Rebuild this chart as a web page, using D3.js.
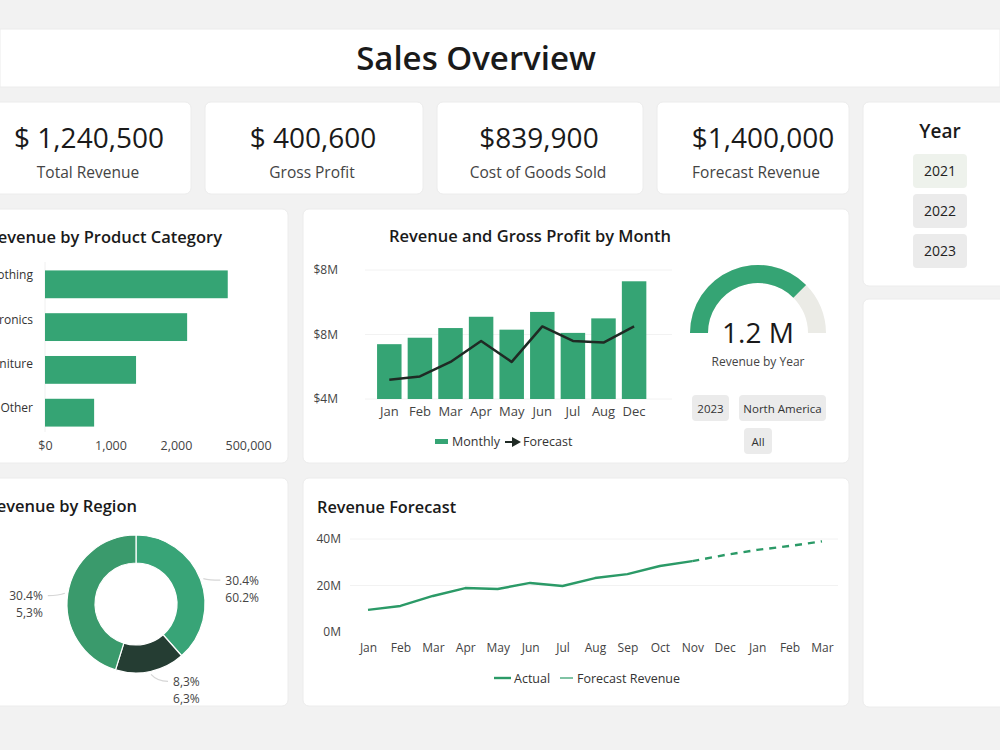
<!DOCTYPE html>
<html>
<head>
<meta charset="utf-8">
<script src="https://cdn.jsdelivr.net/npm/d3@7"></script>
<style>
  body { margin: 0; background: #f2f2f2; font-family: "Open Sans", "Noto Sans", sans-serif; }
  svg text { font-family: "Open Sans", "Noto Sans", sans-serif; }
</style>
</head>
<body>
<svg id="dash" width="1000" height="750"></svg>
<script>
// KPI cards
const kpiValues = ["$ 1,240,500", "$ 400,600", "$839,900", "$1,400,000"];
const kpiLabels = ["Total Revenue", "Gross Profit", "Cost of Goods Sold", "Forecast Revenue"];

// Year slicer
const years = ["2021", "2022", "2023"];

// Revenue by product category
const categories = ["Clothing", "Electronics", "Furniture", "Other"];
const categoryRevenue = [2790, 2170, 1390, 750];
const categoryTicks = [0, 1000, 2000, 3100];
const categoryTickLabels = ["$0", "1,000", "2,000", "500,000"];

// Revenue and gross profit by month (in $M)
const months = ["Jan", "Feb", "Mar", "Apr", "May", "Jun", "Jul", "Aug", "Dec"];
const monthlyRevenue = [7.4, 7.8, 8.4, 9.1, 8.3, 9.4, 8.1, 9.0, 11.3];
const monthlyForecast = [5.2, 5.4, 6.3, 7.6, 6.3, 8.5, 7.6, 7.5, 8.5];
const monthTicks = [4, 8, 12];
const monthTickLabels = ["$4M", "$8M", "$8M"];

// Gauge
const gaugeShare = 0.75;
const gaugeText = "1.2 M";
const filters = ["2023", "North America", "All"];

// Revenue by region
const regionShares = [38.5, 16.3, 45.2];
const regionColors = ["#38a477", "#253d33", "#3a9a6c"];
const regionLabels = [["30.4%", "60.2%"], ["8,3%", "6,3%"], ["30.4%", "5,3%"]];

// Revenue forecast (in M)
const forecastMonths = ["Jan", "Feb", "Mar", "Apr", "May", "Jun", "Jul", "Aug", "Sep", "Oct", "Nov", "Dec", "Jan", "Feb", "Mar"];
const actualRevenue = [9.5, 11.2, 15.5, 18.9, 18.5, 21.1, 19.8, 23.2, 24.9, 28.4, 30.5];
const forecastRevenue = [30.5, 33.1, 35.3, 37.0, 39.0];
const forecastTicks = [0, 20, 40];

const green = "#35a474";
const svg = d3.select("#dash");

// cards
const cards = [
  [0, 29, 1000, 58, 0],
  [-10, 102, 201, 92, 6], [205, 102, 218, 92, 6], [437, 102, 206, 92, 6], [657, 102, 192, 92, 6],
  [863, 102, 150, 184, 6],
  [-10, 209, 298, 254, 6], [303, 209, 546, 254, 6],
  [-10, 478, 298, 228, 6], [303, 478, 546, 228, 6],
  [863, 299, 150, 408, 6]
];
svg.selectAll("rect.card").data(cards).join("rect")
  .attr("class", "card")
  .attr("x", d => d[0]).attr("y", d => d[1])
  .attr("width", d => d[2]).attr("height", d => d[3])
  .attr("rx", d => d[4])
  .attr("fill", "#fff").attr("stroke", "#ececec");

svg.append("text").attr("x", 476).attr("y", 70).attr("text-anchor", "middle")
  .attr("font-size", 33).attr("font-weight", 600).attr("fill", "#1a1a1a")
  .text("Sales Overview");

// KPIs
const kpiCenters = [89, 313, 539, 763];
kpiValues.forEach((v, i) => {
  svg.append("text").attr("x", kpiCenters[i]).attr("y", 148).attr("text-anchor", "middle")
    .attr("font-size", 28).attr("fill", "#1a1a1a").text(v);
  svg.append("text").attr("x", kpiCenters[i] - (i === 3 ? 7 : 1)).attr("y", 178).attr("text-anchor", "middle")
    .attr("font-size", 15.5).attr("fill", "#444").text(kpiLabels[i]);
});

// Year slicer
svg.append("text").attr("x", 940).attr("y", 138).attr("text-anchor", "middle")
  .attr("font-size", 19).attr("font-weight", 600).attr("fill", "#1a1a1a").text("Year");
const yearScale = d3.scaleBand().domain(years).range([154, 268]).paddingInner(0.15);
const yearG = svg.selectAll("g.year").data(years).join("g").attr("class", "year");
yearG.append("rect").attr("x", 913).attr("y", d => yearScale(d))
  .attr("width", 54).attr("height", yearScale.bandwidth()).attr("rx", 4)
  .attr("fill", (d, i) => i === 0 ? "#eef2ec" : "#ebebeb");
yearG.append("text").attr("x", 940).attr("y", d => yearScale(d) + yearScale.bandwidth() / 2 + 5)
  .attr("text-anchor", "middle").attr("font-size", 14).attr("fill", "#222").text(d => d);

// Revenue by product category
svg.append("text").attr("x", 222).attr("y", 243).attr("text-anchor", "end")
  .attr("font-size", 16.5).attr("font-weight", 600).attr("fill", "#1a1a1a")
  .text("Revenue by Product Category");
const catX = d3.scaleLinear().domain([0, 3000]).range([45, 241.5]);
const catY = d3.scaleBand().domain(categories).range([264, 433]).paddingInner(0.35).paddingOuter(0.15);
svg.append("line").attr("x1", 45).attr("x2", 45).attr("y1", 262).attr("y2", 432)
  .attr("stroke", "#f0f0f0");
svg.selectAll("rect.cat").data(categories).join("rect").attr("class", "cat")
  .attr("x", catX(0)).attr("y", d => catY(d))
  .attr("width", (d, i) => catX(categoryRevenue[i]) - catX(0))
  .attr("height", catY.bandwidth()).attr("fill", green);
svg.selectAll("text.catlab").data(categories).join("text").attr("class", "catlab")
  .attr("x", 33).attr("y", (d, i) => catY(d) + 9 + i * 1.5).attr("text-anchor", "end")
  .attr("font-size", 12).attr("fill", "#333").text(d => d);
svg.append("g").attr("transform", "translate(0,443)")
  .call(d3.axisBottom(catX).tickValues(categoryTicks).tickFormat((d, i) => categoryTickLabels[i]).tickSize(0))
  .call(g => g.select(".domain").remove())
  .call(g => g.selectAll("text").attr("font-size", 12.5).attr("fill", "#444").attr("dy", "0.32em"));

// Revenue and gross profit by month
svg.append("text").attr("x", 530).attr("y", 242).attr("text-anchor", "middle")
  .attr("font-size", 16.5).attr("font-weight", 600).attr("fill", "#1a1a1a")
  .text("Revenue and Gross Profit by Month");
const mX = d3.scaleBand().domain(months).range([374, 649.4]).paddingInner(0.2).paddingOuter(0.1);
const mY = d3.scaleLinear().domain([4, 12]).range([399, 270]);
svg.append("g").attr("transform", "translate(344,0)")
  .call(d3.axisLeft(mY).tickValues(monthTicks).tickFormat((d, i) => monthTickLabels[i]).tickSize(0))
  .call(g => g.select(".domain").remove())
  .call(g => g.selectAll("text").attr("font-size", 12).attr("fill", "#444").attr("x", -6));
svg.selectAll("line.mgrid").data(monthTicks).join("line").attr("class", "mgrid")
  .attr("x1", 365).attr("x2", 672).attr("y1", d => mY(d)).attr("y2", d => mY(d))
  .attr("stroke", "#f2f2f2");
svg.selectAll("rect.mbar").data(months).join("rect").attr("class", "mbar")
  .attr("x", d => mX(d)).attr("y", (d, i) => mY(monthlyRevenue[i]))
  .attr("width", mX.bandwidth()).attr("height", (d, i) => mY(4) - mY(monthlyRevenue[i]))
  .attr("fill", green);
svg.append("path")
  .datum(monthlyForecast)
  .attr("d", d3.line().x((d, i) => mX(months[i]) + mX.bandwidth() / 2).y(d => mY(d)))
  .attr("fill", "none").attr("stroke", "#1f2a24").attr("stroke-width", 2.5).attr("stroke-linejoin", "round");
svg.append("g").attr("transform", "translate(0,404)")
  .call(d3.axisBottom(mX).tickSize(0))
  .call(g => g.select(".domain").remove())
  .call(g => g.selectAll("text").attr("font-size", 13).attr("fill", "#444").attr("dy", "0.71em"));
// legend
svg.append("rect").attr("x", 435).attr("y", 439).attr("width", 13).attr("height", 5).attr("fill", green);
svg.append("text").attr("x", 452).attr("y", 446).attr("font-size", 12.5).attr("fill", "#333").text("Monthly");
svg.append("line").attr("x1", 505).attr("x2", 514).attr("y1", 442).attr("y2", 442)
  .attr("stroke", "#1f2a24").attr("stroke-width", 2);
svg.append("path").attr("d", "M512,437 L521,442 L512,447 Z").attr("fill", "#1f2a24");
svg.append("text").attr("x", 523).attr("y", 446).attr("font-size", 12.5).attr("fill", "#333").text("Forecast");

// Gauge
const gauge = svg.append("g").attr("transform", "translate(758,333)");
const gArc = d3.arc().innerRadius(50).outerRadius(68);
gauge.append("path").attr("d", gArc({ startAngle: -Math.PI / 2, endAngle: Math.PI / 2 })).attr("fill", "#ebebe6");
gauge.append("path").attr("d", gArc({ startAngle: -Math.PI / 2, endAngle: -Math.PI / 2 + Math.PI * gaugeShare })).attr("fill", green);
gauge.append("text").attr("y", 10).attr("text-anchor", "middle").attr("font-size", 28).attr("fill", "#1a1a1a").text(gaugeText);
gauge.append("text").attr("y", 33).attr("text-anchor", "middle").attr("font-size", 12).attr("fill", "#444").text("Revenue by Year");
const filterBoxes = [[692, 395, 37], [739, 395, 87], [744, 428, 28]];
filters.forEach((f, i) => {
  const b = filterBoxes[i];
  svg.append("rect").attr("x", b[0]).attr("y", b[1]).attr("width", b[2]).attr("height", 26)
    .attr("rx", 4).attr("fill", "#ebebeb");
  svg.append("text").attr("x", b[0] + b[2] / 2).attr("y", b[1] + 17.5).attr("text-anchor", "middle")
    .attr("font-size", 11.5).attr("fill", "#333").text(f);
});

// Revenue by region
svg.append("text").attr("x", 137).attr("y", 512).attr("text-anchor", "end")
  .attr("font-size", 16.5).attr("font-weight", 600).attr("fill", "#1a1a1a")
  .text("Revenue by Region");
const donut = svg.append("g").attr("transform", "translate(136,604)");
const pie = d3.pie().sort(null)(regionShares);
const dArc = d3.arc().innerRadius(41).outerRadius(69);
donut.selectAll("path").data(pie).join("path")
  .attr("d", dArc).attr("fill", (d, i) => regionColors[i])
  .attr("stroke", "#fff").attr("stroke-width", 1.2);
pie.forEach((d, i) => {
  const a = (d.startAngle + d.endAngle) / 2;
  const s = Math.sin(a) >= 0 ? 1 : -1;
  const p0 = [Math.sin(a) * 72, -Math.cos(a) * 72];
  const p1 = [p0[0] + s * 17, p0[1] - Math.cos(a) * 4 + 3];
  donut.append("path")
    .attr("d", `M${p0[0]},${p0[1]} Q${p0[0] + s * 6},${p1[1]} ${p1[0]},${p1[1]}`)
    .attr("fill", "none").attr("stroke", "#d6d6d6").attr("stroke-width", 1.2);
  regionLabels[i].forEach((t, j) => {
    donut.append("text")
      .attr("x", p1[0] + s * 5).attr("y", p1[1] + 4.5 + j * 17)
      .attr("text-anchor", s > 0 ? "start" : "end")
      .attr("font-size", 12).attr("fill", "#444").text(t);
  });
});

// Revenue forecast
svg.append("text").attr("x", 317).attr("y", 513)
  .attr("font-size", 16.3).attr("font-weight", 600).attr("fill", "#1a1a1a").text("Revenue Forecast");
const fX = d3.scalePoint().domain(d3.range(forecastMonths.length)).range([368, 822]);
const fY = d3.scaleLinear().domain([0, 40]).range([632, 539]);
svg.selectAll("line.fgrid").data(forecastTicks.slice(1)).join("line").attr("class", "fgrid")
  .attr("x1", 350).attr("x2", 838).attr("y1", d => fY(d)).attr("y2", d => fY(d))
  .attr("stroke", "#f2f2f2");
svg.append("g").attr("transform", "translate(343,0)")
  .call(d3.axisLeft(fY).tickValues(forecastTicks).tickFormat(d => d + "M").tickSize(0))
  .call(g => g.select(".domain").remove())
  .call(g => g.selectAll("text").attr("font-size", 12).attr("fill", "#444").attr("x", -2));
svg.append("g").attr("transform", "translate(0,640)")
  .call(d3.axisBottom(fX).tickSize(0).tickFormat(i => forecastMonths[i]))
  .call(g => g.select(".domain").remove())
  .call(g => g.selectAll("text").attr("font-size", 12).attr("fill", "#444").attr("dy", "0.71em"));
const fLine = d3.line().x(d => fX(d[0])).y(d => fY(d[1]));
svg.append("path")
  .datum(actualRevenue.map((v, i) => [i, v]))
  .attr("d", fLine).attr("fill", "none").attr("stroke", "#2b9a67").attr("stroke-width", 2.4)
  .attr("stroke-linejoin", "round");
const fStart = actualRevenue.length - 1;
svg.append("path")
  .datum(forecastRevenue.map((v, i) => [fStart + i, v]))
  .attr("d", fLine).attr("fill", "none").attr("stroke", "#2b9a67").attr("stroke-width", 2.4)
  .attr("stroke-dasharray", "7,6");
// legend
svg.append("line").attr("x1", 494).attr("x2", 511).attr("y1", 678).attr("y2", 678)
  .attr("stroke", "#2b9a67").attr("stroke-width", 2.4);
svg.append("text").attr("x", 514).attr("y", 683).attr("font-size", 12.5).attr("fill", "#333").text("Actual");
svg.append("line").attr("x1", 560).attr("x2", 573).attr("y1", 678).attr("y2", 678)
  .attr("stroke", "#2b9a67").attr("stroke-width", 1.2);
svg.append("text").attr("x", 577).attr("y", 683).attr("font-size", 12.5).attr("fill", "#333").text("Forecast Revenue");
</script>
</body>
</html>
